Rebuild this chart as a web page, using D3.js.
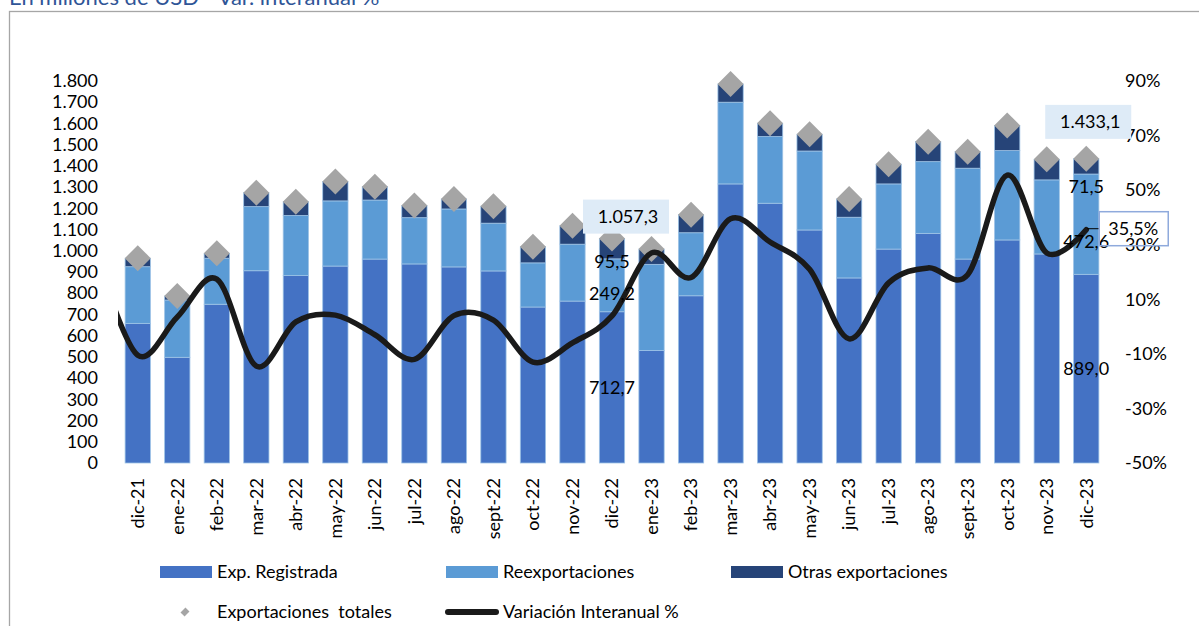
<!DOCTYPE html>
<html>
<head>
<meta charset="utf-8">
<script src="https://cdn.jsdelivr.net/npm/d3@7"></script>
<style>
  body { margin: 0; background: #fff; }
  text { font-family: Lato, "Open Sans", sans-serif; fill: #000; }
</style>
</head>
<body>
<svg id="chart" width="1199" height="626"></svg>
<script>
// data (millones de USD / %)
const months = ["dic-21","ene-22","feb-22","mar-22","abr-22","may-22","jun-22","jul-22","ago-22","sept-22","oct-22","nov-22","dic-22",
                "ene-23","feb-23","mar-23","abr-23","may-23","jun-23","jul-23","ago-23","sept-23","oct-23","nov-23","dic-23"];
const expRegistrada   = [658, 498, 748, 906, 883, 928, 961, 938, 924, 905, 735, 763, 712.7, 530, 788, 1315, 1224, 1098, 872, 1008, 1082, 961, 1051, 985, 889.0];
const reexportaciones = [267, 270, 217, 302, 283, 307, 278, 218, 273, 225, 208, 268, 249.2, 406, 297, 385, 314, 372, 286, 307, 338, 428, 421, 349, 472.6];
const otrasExport     = [40, 19, 23, 66, 65, 91, 63, 57, 47, 80, 76, 87, 95.5, 72, 85, 86, 63, 79, 86, 93, 94, 78, 118, 97, 71.5];
const expTotales      = [965, 787, 988, 1274, 1231, 1326, 1302, 1213, 1244, 1210, 1019, 1118, 1057.3, 1008, 1170, 1786, 1601, 1549, 1244, 1408, 1514, 1467, 1590, 1431, 1433.1];
const varInteranual   = [-10.5, 3.5, 17.4, -14.5, 1.7, 4.2, -3, -12, 4, 2.4, -13, -6, 3.9, 27, 18, 39.5, 31, 21, -4.5, 16, 21.5, 19, 55.5, 27, 35.5];
const varPrevMonth = 24;   // nov-21, only its tail shows at the left edge
const leftTicks  = [0,100,200,300,400,500,600,700,800,900,1000,1100,1200,1300,1400,1500,1600,1700,1800];
const rightTicks = [-50,-30,-10,10,30,50,70,90];
const labeledMonths = ["dic-22","dic-23"];

const COL = {reg: "#4472C4", reexp: "#5B9BD5", otras: "#264478", total: "#A5A5A5", line: "#1a1a1a"};

const locale = d3.formatLocale({decimal: ",", thousands: ".", grouping: [3], currency: ["", ""]});
const fmt0 = locale.format(",.0f"), fmt1 = locale.format(",.1f");

const svg = d3.select("#chart");

// frame + cut title
svg.append("rect").attr("x", 9.5).attr("y", 11.5).attr("width", 1300).attr("height", 700)
  .attr("fill", "none").attr("stroke", "#A6A6A6").attr("stroke-width", 1.3);
svg.append("text").attr("x", 9).attr("y", 5).attr("font-size", "22px")
  .style("fill", "#2F5597").text("En millones de USD - Var. interanual %");

const x = d3.scaleBand().domain(months).range([118, 1106]).paddingInner(0.36).paddingOuter(0.18);
const y = d3.scaleLinear().domain([0, 1800]).range([463, 81]);
const y2 = d3.scaleLinear().domain([-50, 90]).range([463, 81]);
const xc = m => x(m) + x.bandwidth() / 2;

const rows = months.map((m, i) => ({month: m, reg: expRegistrada[i], reexp: reexportaciones[i],
                                    otras: otrasExport[i], total: expTotales[i]}));
const series = d3.stack().keys(["reg", "reexp", "otras"])(rows);

// axes
const fs = "18px";
const gl = svg.append("g").attr("transform", "translate(118,0)")
  .call(d3.axisLeft(y).tickValues(leftTicks).tickFormat(fmt0).tickSize(0).tickPadding(20));
const gr = svg.append("g").attr("transform", "translate(1106,0)")
  .call(d3.axisRight(y2).tickValues(rightTicks).tickFormat(d => d + "%").tickSize(0).tickPadding(19));
const gx = svg.append("g").attr("transform", "translate(0,463)")
  .call(d3.axisBottom(x).tickSize(0));
[gl, gr, gx].forEach(g => {
  g.select(".domain").remove();
  g.selectAll("text").attr("font-size", fs).style("font-family", "Lato, sans-serif").style("fill", "#000");
});
gx.selectAll("text").attr("transform", "rotate(-90)").attr("x", -15).attr("y", 0)
  .attr("dy", "0.35em").style("text-anchor", "end");

// stacked bars
svg.append("g").selectAll("g").data(series).join("g")
  .attr("fill", d => COL[d.key])
  .selectAll("rect").data(d => d).join("rect")
    .attr("x", d => x(d.data.month))
    .attr("width", x.bandwidth())
    .attr("y", d => y(d[1]))
    .attr("height", d => y(d[0]) - y(d[1]))
    .attr("stroke", "#9DC3E6").attr("stroke-width", 0.8);

// total markers (diamonds)
svg.append("g").selectAll("path").data(rows).join("path")
  .attr("d", d3.symbol(d3.symbolSquare, 338)())
  .attr("transform", d => `translate(${xc(d.month)},${y(d.total)}) rotate(45)`)
  .attr("fill", COL.total);

// variation line (smoothed), clipped to plot area
svg.append("clipPath").attr("id", "plotclip").append("rect")
  .attr("x", 118).attr("y", 0).attr("width", 988).attr("height", 626);
const linePts = [[xc(months[0]) - x.step(), y2(varPrevMonth)]]
  .concat(months.map((m, i) => [xc(m), y2(varInteranual[i])]));
svg.append("path").datum(linePts)
  .attr("clip-path", "url(#plotclip)")
  .attr("d", d3.line().curve(d3.curveCardinal.tension(0)))
  .attr("fill", "none").attr("stroke", COL.line).attr("stroke-width", 5.5)
  .attr("stroke-linecap", "round");

// data labels
const nudge = {
  "dic-22": {reexp: 8, otras: 13, boxDx: 14, boxDy: -22},
  "dic-23": {reexp: 18, otras: 20, boxDx: 2, boxDy: -37}
};
labeledMonths.forEach(m => {
  const r = rows.find(d => d.month === m), n = nudge[m], cx = xc(m);
  const seg = (a, b) => (y(a) + y(b)) / 2;
  const lbl = (xx, yy, t) => svg.append("text").attr("x", xx).attr("y", yy)
    .attr("text-anchor", "middle").attr("dy", "0.35em").attr("font-size", fs).text(t);
  lbl(cx, seg(0, r.reg), fmt1(r.reg));
  lbl(cx, seg(r.reg, r.reg + r.reexp) + n.reexp, fmt1(r.reexp));
  lbl(cx, seg(r.reg + r.reexp, r.reg + r.reexp + r.otras) + n.otras, fmt1(r.otras));
  const bx = cx + n.boxDx, by = y(r.total) + n.boxDy;
  svg.append("rect").attr("x", bx - 43).attr("y", by - 17).attr("width", 86).attr("height", 34)
    .attr("fill", "#DEEBF7");
  lbl(bx + 2, by, fmt1(r.total));
});

// last variation label
{
  const m = months[months.length - 1], v = varInteranual[varInteranual.length - 1];
  const px = xc(m), py = y2(v);
  svg.append("line").attr("x1", px + 1).attr("x2", px + 13).attr("y1", py - 1).attr("y2", py - 1)
    .attr("stroke", "#000").attr("stroke-width", 1);
  svg.append("rect").attr("x", px + 13).attr("y", py - 18).attr("width", 69).attr("height", 34)
    .attr("fill", "none").attr("stroke", "#8FAADC").attr("stroke-width", 1.5);
  svg.append("text").attr("x", px + 47).attr("y", py - 1).attr("dy", "0.35em")
    .attr("text-anchor", "middle").attr("font-size", fs).text(locale.format(".1f")(v) + "%");
}

// legend
const legend = [
  {name: "Exp. Registrada", type: "rect", color: COL.reg, x: 160, y: 572},
  {name: "Reexportaciones", type: "rect", color: COL.reexp, x: 446, y: 572},
  {name: "Otras exportaciones", type: "rect", color: COL.otras, x: 731, y: 572},
  {name: "Exportaciones  totales", type: "diamond", color: COL.total, x: 160, y: 612},
  {name: "Variación Interanual %", type: "line", color: COL.line, x: 446, y: 612}
];
const lg = svg.append("g").selectAll("g").data(legend).join("g")
  .attr("transform", d => `translate(${d.x},${d.y})`);
lg.filter(d => d.type === "rect").append("rect")
  .attr("x", 0).attr("y", -6).attr("width", 52).attr("height", 12).attr("fill", d => d.color);
lg.filter(d => d.type === "diamond").append("path")
  .attr("d", d3.symbol(d3.symbolSquare, 40)())
  .attr("transform", "translate(25,0) rotate(45) scale(0.9,1.1)").attr("fill", d => d.color);
lg.filter(d => d.type === "line").append("line")
  .attr("x1", 2).attr("x2", 50).attr("y1", 0).attr("y2", 0)
  .attr("stroke", d => d.color).attr("stroke-width", 6).attr("stroke-linecap", "round");
lg.append("text").attr("x", 57).attr("y", 0).attr("dy", "0.35em").attr("font-size", fs)
  .style("white-space", "pre").text(d => d.name);
</script>
</body>
</html>
